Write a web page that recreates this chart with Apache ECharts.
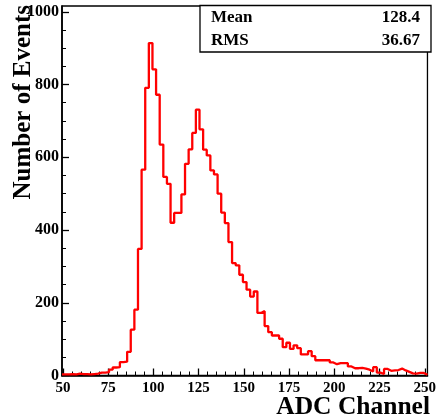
<!DOCTYPE html>
<html>
<head>
<meta charset="utf-8">
<script src="https://cdn.jsdelivr.net/npm/echarts@6/dist/echarts.min.js"></script>
<style>
  html, body { margin: 0; padding: 0; background: #fff; }
  #adc-histogram { width: 439px; height: 419px; }
</style>
</head>
<body>
<div id="adc-histogram"></div>
<script>
// histogram binning (ADC channels)
var binStart = 49.5;
var binWidth = 2;
// counts per bin
var counts = [
  3, 3, 4, 3, 5, 4, 4, 3, 4, 5,
  8, 8, 9, 16, 22, 23, 37, 38, 65, 126,
  181, 348, 566, 791, 914, 842, 772, 635, 546, 527,
  420, 447, 447, 498, 582, 622, 667, 731, 677, 621,
  605, 564, 553, 500, 448, 419, 367, 309, 303, 277,
  257, 236, 217, 231, 172, 177, 136, 119, 110, 110,
  101, 78, 90, 73, 83, 75, 58, 58, 67, 53,
  42, 42, 42, 42, 36, 31, 34, 34, 34, 25,
  20, 20, 21, 19, 16, 11, 23, 8, 4, 18,
  13, 14, 15, 19, 14, 10, 6, 5, 7, 7,
  2
];
var xTicks = [50, 75, 100, 125, 150, 175, 200, 225, 250];
var yTicks = [0, 200, 400, 600, 800, 1000];
var xMinorTicks = [];
for (var t = 50; t <= 250; t += 5) xMinorTicks.push(t);
var yMinorTicks = [];
for (var u = 0; u <= 1000; u += 50) yMinorTicks.push(u);
var statsLabels = ['Mean', 'RMS'];
var statsValues = ['128.4', '36.67'];

var xMax = binStart + binWidth * counts.length;
var yMax = 1016;

// step line: one point on each bin's left edge, plus the closing edge
var histData = counts.map(function (c, i) { return [binStart + binWidth * i, c]; });
histData.push([xMax, counts[counts.length - 1]]);

var font = 'Liberation Serif';
var plain = function (v) { return String(v); };

var chart = echarts.init(document.getElementById('adc-histogram'));
chart.setOption({
  animation: false,
  grid: {
    left: 62, top: 6, width: 369, height: 369.5,
    show: true, borderColor: '#000', borderWidth: 1.3, backgroundColor: 'transparent'
  },
  xAxis: [
    {
      type: 'value', min: binStart, max: xMax,
      axisLine: { lineStyle: { color: '#000', width: 1.7 } },
      axisTick: { inside: true, length: 7, customValues: xTicks, lineStyle: { color: '#000', width: 1.3 } },
      axisLabel: {
        customValues: xTicks, margin: 5, color: '#000', formatter: plain,
        fontFamily: font, fontWeight: 'bold', fontSize: 15
      },
      splitLine: { show: false }
    },
    {
      type: 'value', min: binStart, max: xMax, position: 'bottom',
      axisLine: { show: false },
      axisTick: { inside: true, length: 4, customValues: xMinorTicks, lineStyle: { color: '#000', width: 1 } },
      axisLabel: { show: false },
      splitLine: { show: false }
    }
  ],
  yAxis: [
    {
      type: 'value', min: 0, max: yMax,
      axisLine: { show: true, lineStyle: { color: '#000', width: 1.7 } },
      axisTick: { show: true, inside: true, length: 7, customValues: yTicks, lineStyle: { color: '#000', width: 1.3 } },
      axisLabel: {
        customValues: yTicks, margin: 3, color: '#000', formatter: plain,
        fontFamily: font, fontWeight: 'bold', fontSize: 16
      },
      splitLine: { show: false }
    },
    {
      type: 'value', min: 0, max: yMax, position: 'left',
      axisLine: { show: false },
      axisTick: { show: true, inside: true, length: 4, customValues: yMinorTicks, lineStyle: { color: '#000', width: 1 } },
      axisLabel: { show: false },
      splitLine: { show: false }
    }
  ],
  series: [
    {
      type: 'line',
      step: 'end',
      data: histData,
      symbol: 'none',
      lineStyle: { color: '#ff0000', width: 2.3 },
      itemStyle: { color: '#ff0000' },
      z: 3
    }
  ],
  graphic: [
    {
      type: 'rect', z: 10,
      shape: { x: 200, y: 5.5, width: 231, height: 46.5 },
      style: { fill: '#fff', stroke: '#000', lineWidth: 1.3 }
    },
    {
      type: 'text', z: 11, x: 211, y: 18,
      style: { text: statsLabels[0], fill: '#000', font: 'bold 17px "' + font + '"', textAlign: 'left', textVerticalAlign: 'middle' }
    },
    {
      type: 'text', z: 11, x: 420, y: 18,
      style: { text: statsValues[0], fill: '#000', font: 'bold 17px "' + font + '"', textAlign: 'right', textVerticalAlign: 'middle' }
    },
    {
      type: 'text', z: 11, x: 211, y: 41,
      style: { text: statsLabels[1], fill: '#000', font: 'bold 17px "' + font + '"', textAlign: 'left', textVerticalAlign: 'middle' }
    },
    {
      type: 'text', z: 11, x: 420, y: 41,
      style: { text: statsValues[1], fill: '#000', font: 'bold 17px "' + font + '"', textAlign: 'right', textVerticalAlign: 'middle' }
    },
    {
      type: 'text', z: 11, x: 24, y: 5, rotation: Math.PI / 2,
      style: { text: 'Number of Events', fill: '#000', font: 'bold 25px "' + font + '"', textAlign: 'right', textVerticalAlign: 'middle' }
    },
    {
      type: 'text', z: 11, x: 430, y: 407,
      style: { text: 'ADC Channel', fill: '#000', font: 'bold 25.5px "' + font + '"', textAlign: 'right', textVerticalAlign: 'middle' }
    }
  ]
});
</script>
</body>
</html>
